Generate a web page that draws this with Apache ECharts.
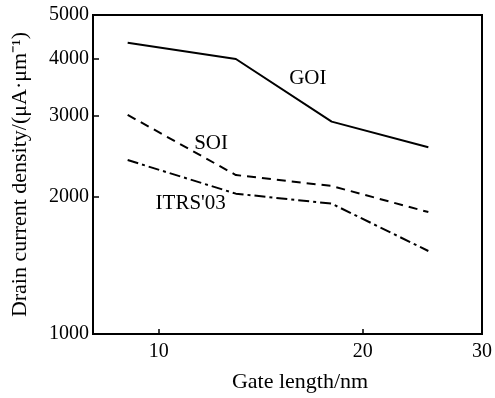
<!DOCTYPE html>
<html>
<head>
<meta charset="utf-8">
<script src="https://cdn.jsdelivr.net/npm/echarts@6/dist/echarts.min.js"></script>
<style>
html,body{margin:0;padding:0;background:#fff;}
#chart{width:495px;height:398px;}
</style>
</head>
<body>
<div id="chart"></div>
<script>
// Gate length (nm)
const gateLength = [9, 13, 18, 25];
// Drain current density (uA/um)
const goi  = [4345, 4005, 2920, 2565];
const soi  = [3020, 2230, 2110, 1850];
const itrs = [2405, 2030, 1930, 1520];
const yTicks = [1000, 2000, 3000, 4000, 5000];
const xTicks = [10, 20, 30];
// series annotation text and its anchor in data coordinates
const seriesNames = ['GOI', 'SOI', "ITRS'03"];
const labelAnchorX = [16.6, 11.95, 11.15];
const labelAnchorY = [3635, 2615, 1927];

const FONT = '"Liberation Serif","Times New Roman",serif';
const chart = echarts.init(document.getElementById('chart'), null, {renderer: 'canvas'});

function pairs(ys) { return gateLength.map((x, i) => [x, ys[i]]); }
function mk(i) {
  return {
    symbol: 'circle', symbolSize: 0, silent: true,
    label: {show: true, position: 'inside', formatter: seriesNames[i], color: '#000',
            fontFamily: FONT, fontSize: 21},
    data: [{coord: [labelAnchorX[i], labelAnchorY[i]]}]
  };
}
const lineBase = {type: 'line', symbol: 'none', silent: true, animation: false};

chart.setOption({
  backgroundColor: '#fff',
  animation: false,
  grid: {left: 93, right: 13, top: 15, bottom: 51, show: true, borderColor: '#000', borderWidth: 2, backgroundColor: 'transparent'},
  xAxis: {
    type: 'log', logBase: 10, min: 8, max: 30,
    name: 'Gate length/nm', nameLocation: 'middle', nameGap: 37,
    nameTextStyle: {fontFamily: FONT, fontSize: 22, color: '#000', padding: [0, 0, 0, 25]},
    axisLine: {show: true, lineStyle: {color: '#000', width: 2}},
    axisTick: {show: true, inside: true, length: 5, lineStyle: {color: '#000', width: 1.5}, customValues: xTicks},
    minorTick: {show: false},
    axisLabel: {fontFamily: FONT, fontSize: 20, color: '#000', margin: 8, customValues: xTicks,
                formatter: v => String(Math.round(v))},
    splitLine: {show: false}, minorSplitLine: {show: false}
  },
  yAxis: {
    type: 'log', logBase: 10, min: 1000, max: 5000,
    name: 'Drain current density/(\u03bcA\u00b7\u03bcm\u207b\u00b9)', nameLocation: 'middle', nameGap: 62,
    nameTextStyle: {fontFamily: FONT, fontSize: 22, color: '#000'},
    axisLine: {show: true, lineStyle: {color: '#000', width: 2}},
    axisTick: {show: true, inside: true, length: 6, lineStyle: {color: '#000', width: 1.5}, customValues: yTicks},
    minorTick: {show: false},
    axisLabel: {fontFamily: FONT, fontSize: 20, color: '#000', margin: 4, customValues: yTicks,
                formatter: v => String(Math.round(v))},
    splitLine: {show: false}, minorSplitLine: {show: false}
  },
  series: [
    Object.assign({}, lineBase, {name: 'GOI', data: pairs(goi),
      lineStyle: {color: '#000', width: 2, type: 'solid'}, markPoint: mk(0)}),
    Object.assign({}, lineBase, {name: 'SOI', data: pairs(soi),
      lineStyle: {color: '#000', width: 2, type: [9, 6]}, markPoint: mk(1)}),
    Object.assign({}, lineBase, {name: "ITRS'03", data: pairs(itrs),
      lineStyle: {color: '#000', width: 2, type: [11, 4, 3, 4]}, markPoint: mk(2)})
  ]
});
</script>
</body>
</html>
